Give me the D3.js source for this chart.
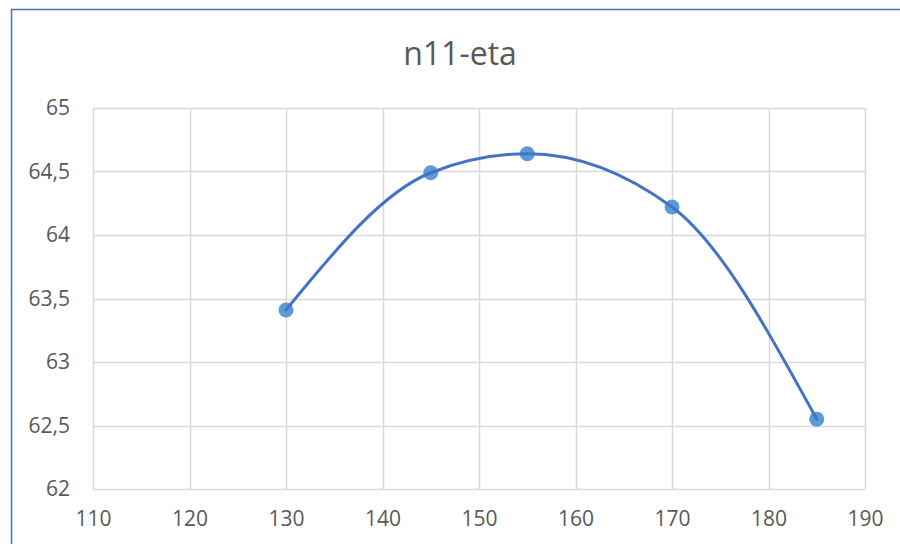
<!DOCTYPE html>
<html>
<head>
<meta charset="utf-8">
<script src="https://cdn.jsdelivr.net/npm/d3@7"></script>
<style>
  html, body { margin: 0; padding: 0; background: #fff; }
  svg { display: block; font-family: "Open Sans", "Noto Sans", sans-serif; }
</style>
</head>
<body>
<div id="chart"></div>
<script>
// data
const title = 'n11-eta';
const xValues = [130, 145, 155, 170, 185];
const yValues = [63.41, 64.49, 64.64, 64.22, 62.55];
const xTicks = [110, 120, 130, 140, 150, 160, 170, 180, 190];
const yTicks = [62, 62.5, 63, 63.5, 64, 64.5, 65];

const width = 900;
const height = 544;
const margin = { top: 108, right: 35, bottom: 55, left: 93 };
const innerWidth = width - margin.left - margin.right;
const innerHeight = height - margin.top - margin.bottom;

const svg = d3.select('#chart')
    .append('svg')
    .attr('width', width)
    .attr('height', height);

// chart area frame (only left and top edges are visible)
svg.append('rect')
    .attr('x', 11.5)
    .attr('y', 9.5)
    .attr('width', width + 20)
    .attr('height', height + 20)
    .attr('fill', 'none')
    .attr('stroke', '#4472C4')
    .attr('stroke-width', 1.5);

svg.append('text')
    .attr('x', 460)
    .attr('y', 65)
    .attr('text-anchor', 'middle')
    .attr('fill', '#595959')
    .attr('font-size', 32)
    .text(title);

const g = svg.append('g')
    .attr('transform', `translate(${margin.left},${margin.top})`);

const xScale = d3.scaleLinear()
    .domain([110, 190])
    .range([0, innerWidth]);

const yScale = d3.scaleLinear()
    .domain([62, 65])
    .range([innerHeight, 0]);

// grid lines
g.append('g')
    .selectAll('line')
    .data(xTicks)
    .join('line')
    .attr('x1', d => Math.round(xScale(d)) + 0.5)
    .attr('x2', d => Math.round(xScale(d)) + 0.5)
    .attr('y1', 0)
    .attr('y2', innerHeight)
    .attr('stroke', '#d9d9d9')
    .attr('stroke-width', 1.5);

g.append('g')
    .selectAll('line')
    .data(yTicks)
    .join('line')
    .attr('x1', 0)
    .attr('x2', innerWidth)
    .attr('y1', d => Math.round(yScale(d)) + 0.5)
    .attr('y2', d => Math.round(yScale(d)) + 0.5)
    .attr('stroke', '#d9d9d9')
    .attr('stroke-width', 1.5);

// axes (labels only)
const fmt = d => String(d).replace('.', ',');

const xAxis = d3.axisBottom(xScale)
    .tickValues(xTicks)
    .tickSize(0)
    .tickPadding(22)
    .tickFormat(d => d);

const yAxis = d3.axisLeft(yScale)
    .tickValues(yTicks)
    .tickSize(0)
    .tickPadding(23)
    .tickFormat(fmt);

const xAxisG = g.append('g')
    .attr('transform', `translate(0,${innerHeight})`)
    .call(xAxis);
const yAxisG = g.append('g').call(yAxis);

[xAxisG, yAxisG].forEach(a => {
    a.select('.domain').remove();
    a.selectAll('text')
        .attr('fill', '#595959')
        .attr('font-size', 21)
        .attr('font-family', '"Open Sans", "Noto Sans", sans-serif');
});

const points = xValues.map((x, i) => ({ x: x, y: yValues[i] }));

// markers
g.append('g')
    .selectAll('circle')
    .data(points)
    .join('circle')
    .attr('cx', d => xScale(d.x))
    .attr('cy', d => yScale(d.y))
    .attr('r', 7.5)
    .attr('fill', '#5B9BD5');

// smoothed line
const lineGenerator = d3.line()
    .x(d => xScale(d.x))
    .y(d => yScale(d.y))
    .curve(d3.curveMonotoneX);

g.append('path')
    .datum(points)
    .attr('d', lineGenerator)
    .attr('fill', 'none')
    .attr('stroke', '#4472C4')
    .attr('stroke-width', 3)
    .attr('stroke-linecap', 'round');
</script>
</body>
</html>
